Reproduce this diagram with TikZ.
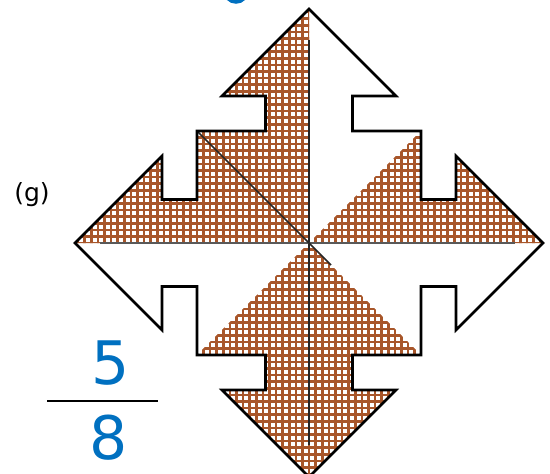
\documentclass[tikz,border=0pt]{standalone}
\usepackage{fontspec}
\setmainfont{DejaVu Sans}
\definecolor{hatch}{RGB}{168,86,42}
\definecolor{numblue}{RGB}{0,112,192}
\tikzset{
  outline/.style={draw=black, line width=2.6pt, line join=miter},
  hatchgrid/.style={draw=hatch, line width=2.6pt},
  divline/.style={draw=black!85, line width=1.6pt},
  numtext/.style={text=numblue, font=\fontsize{60}{60}\selectfont, inner sep=0pt},
}
\begin{document}
\begin{tikzpicture}[x=1pt,y=-1pt]
\useasboundingbox (0,0) rectangle (550,474);
\def\pT{234}\def\pH{147}\def\pW{87}\def\pS{43.5}\def\pA{112}
% blue fragment at the top edge
\begin{scope}
  \clip (0,0) rectangle (550,474);
  \draw[numblue, line width=3.5pt] (236,-9) circle (11);
\end{scope}
\begin{scope}[shift={(309,243)}]
  \coordinate (C) at (0,0);
  % hatched regions
  \begin{scope}
    \clip (0,0) -- (0,-\pT) -- (-\pW,-\pH) -- (-\pS,-\pH) -- (-\pS,-\pA) -- (-\pA,-\pA) -- (-\pA,-\pS) -- (-\pH,-\pS) -- (-\pH,-\pW) -- (-\pT,0) -- cycle
          (0,0) -- (\pA,-\pA) -- (\pA,-\pS) -- (\pH,-\pS) -- (\pH,-\pW) -- (\pT,0) -- cycle
          (0,0) -- (\pA,\pA) -- (\pS,\pA) -- (\pS,\pH) -- (\pW,\pH) -- (0,\pT) -- (-\pW,\pH) -- (-\pS,\pH) -- (-\pS,\pA) -- (-\pA,\pA) -- cycle;
    \foreach \k in {-36,...,36} {
      \draw[hatchgrid] (\k*6.6,-245) -- (\k*6.6,245);
      \draw[hatchgrid] (-245,\k*6.6) -- (245,\k*6.6);
    }
  \end{scope}
  % dividing lines
  \coordinate (vt) at (0,-203);
  \coordinate (vb) at (0,202);
  \coordinate (hl) at (-209,0);
  \coordinate (hr) at (206,0);
  \coordinate (dul) at (-\pA,-\pA);
  \coordinate (dlr) at (22,22);
  \draw[divline] (vt) -- (vb);
  \draw[divline, draw=black!65] (hl) -- (hr);
  \draw[divline] (dul) -- (dlr);
  % outline
  \draw[outline] (0,-\pT) -- (\pW,-\pH) -- (\pS,-\pH) -- (\pS,-\pA) -- (\pA,-\pA) -- (\pA,-\pS) -- (\pH,-\pS) -- (\pH,-\pW) -- (\pT,0) -- (\pH,\pW) -- (\pH,\pS) -- (\pA,\pS) -- (\pA,\pA) -- (\pS,\pA) -- (\pS,\pH) -- (\pW,\pH) -- (0,\pT) -- (-\pW,\pH) -- (-\pS,\pH) -- (-\pS,\pA) -- (-\pA,\pA) -- (-\pA,\pS) -- (-\pH,\pS) -- (-\pH,\pW) -- (-\pT,0) -- (-\pH,-\pW) -- (-\pH,-\pS) -- (-\pA,-\pS) -- (-\pA,-\pA) -- (-\pS,-\pA) -- (-\pS,-\pH) -- (-\pW,-\pH) -- cycle;
\end{scope}
% labels
\node[font=\fontsize{25}{28}\selectfont, inner sep=0pt] (lbl) at (32,195) {(g)};
\node[numtext] (num) at (111,363) {5};
\node[numtext] (den) at (109,438) {8};
\coordinate (barL) at (47,401);
\coordinate (barR) at (158,401);
\draw[line width=1.8pt] (barL) -- (barR);
\end{tikzpicture}
\end{document}
